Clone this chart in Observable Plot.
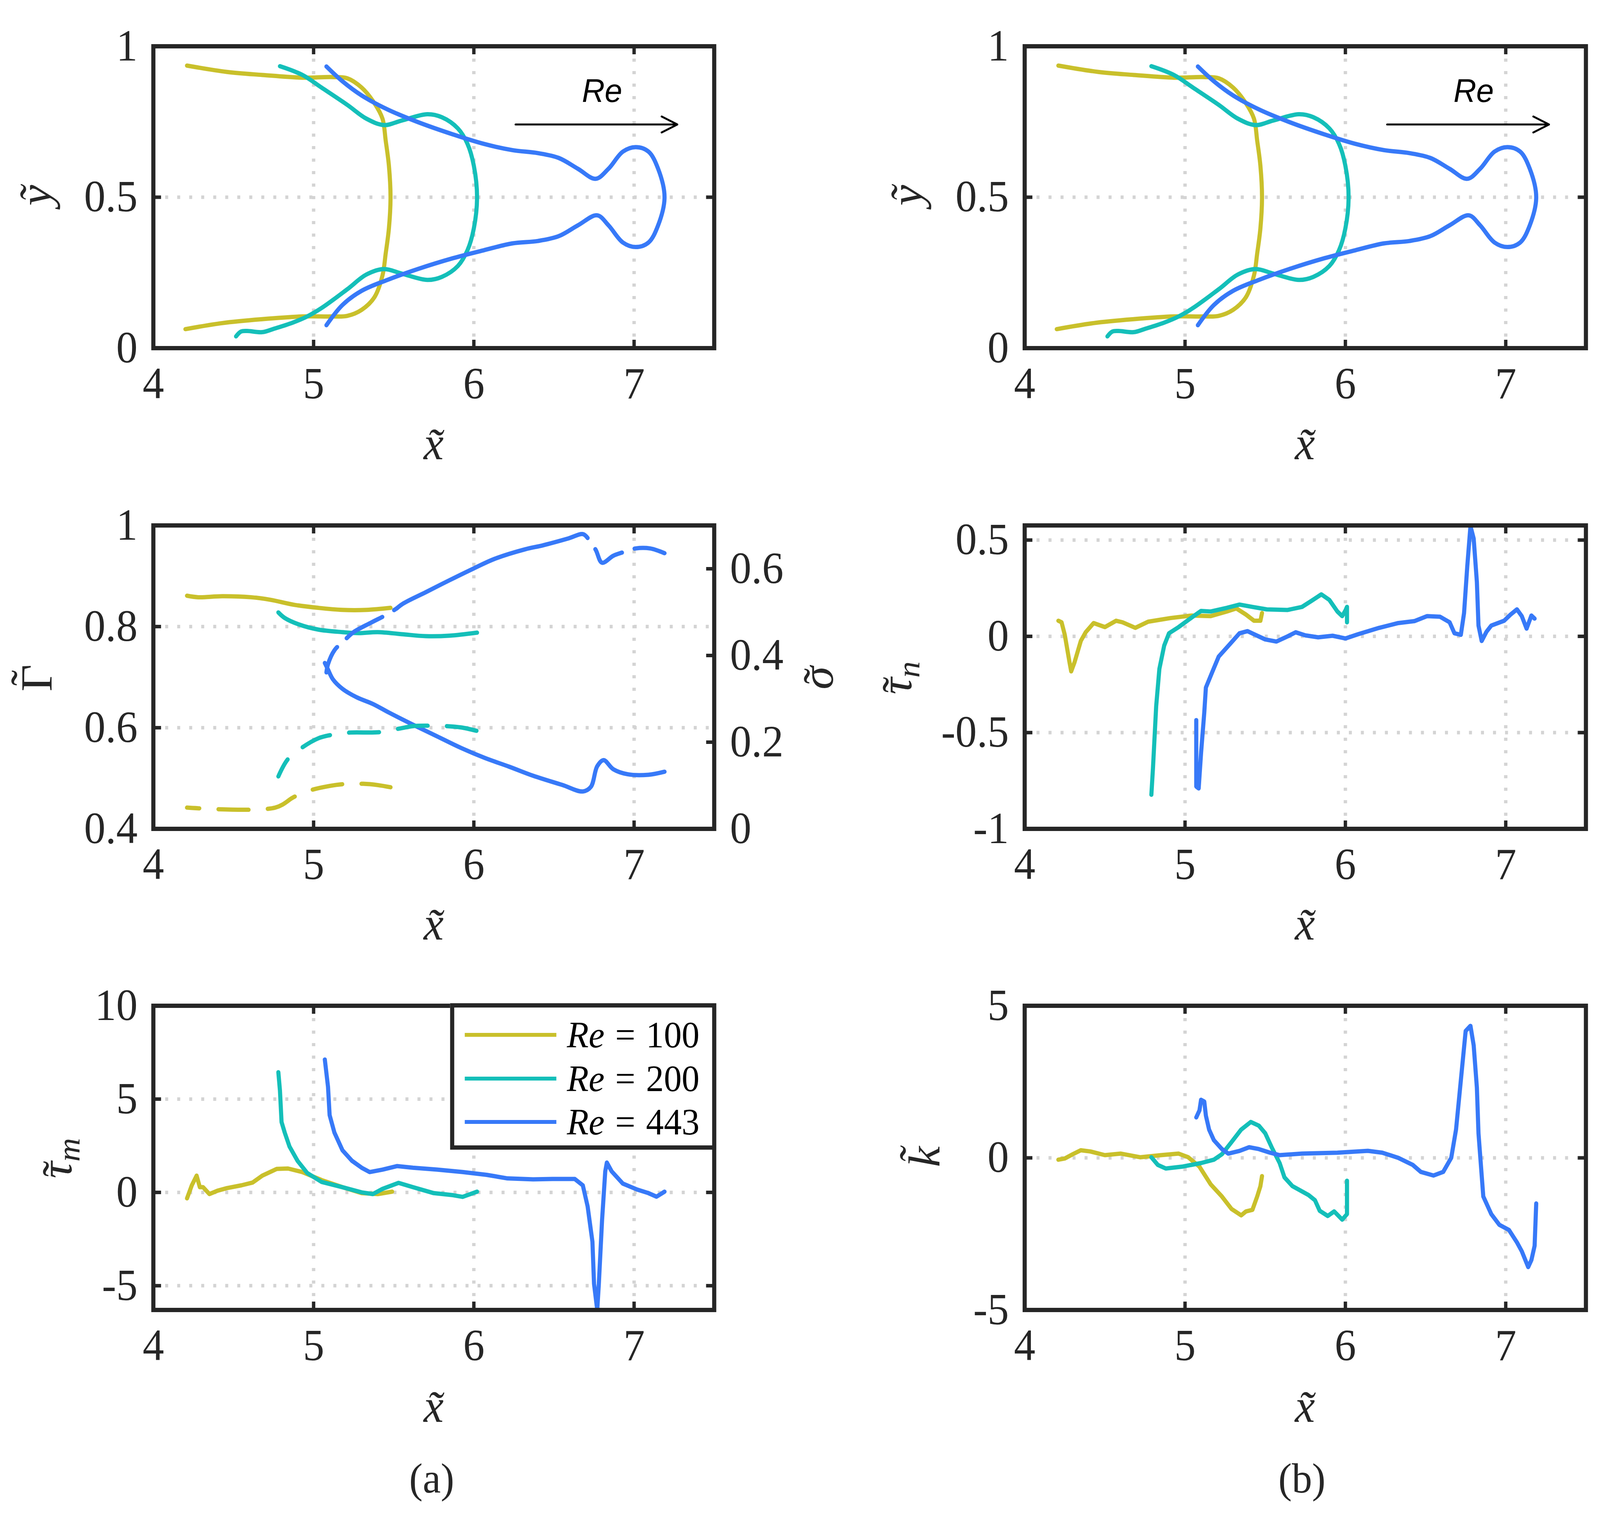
<!DOCTYPE html>
<html>
<head>
<meta charset="utf-8">
<script src="https://cdn.jsdelivr.net/npm/d3@7"></script>
<script src="https://cdn.jsdelivr.net/npm/@observablehq/plot@0.6"></script>
<style>
  html, body { margin: 0; padding: 0; background: #fff; overflow: hidden; }
  #fig { position: relative; width: 4262px; height: 3900px; background: #fff; overflow: hidden;
         font-family: "Liberation Serif", serif; color: #262626; }
  .panel { position: absolute; }
  .lab { position: absolute; white-space: nowrap; font-family: "Liberation Serif", serif;
         font-size: 120px; line-height: 1; transform: translate(-50%, -50%); color: #262626; }
  .rot { transform: translate(-50%, -50%) rotate(-90deg); }
  .lab i { font-style: italic; }
  .lab sub { font-size: 70%; vertical-align: -0.25em; }
  .acc { position: relative; display: inline-block; }
  .acc .tl { position: absolute; transform: translateX(-50%); font-style: normal; line-height: 1; }
  .cap { font-size: 108px; }
  #legend { position: absolute; box-sizing: border-box; border: 11px solid #262626; background: #fff; }
  .lg-line { position: absolute; height: 10px; }
  .lg-text { position: absolute; font-family: "Liberation Serif", serif; font-size: 95px; line-height: 1;
             white-space: nowrap; transform: translateY(-50%); color: #000; }
</style>
</head>
<body>
<div id="fig"></div>
<script>
// ---------------- data ----------------
const xDomain = [4, 7.5];
const xTicks = [4, 5, 6, 7];
const seriesNames = ["Re = 100", "Re = 200", "Re = 443"];
const seriesColors = ["#c9c02b", "#14bfb9", "#3779f8"];

// (top) interface shapes  y~ vs x~
const shape100X = [4.21,4.46,4.68,4.93,5.11,5.21,5.30,5.38,5.43,5.45,5.47,5.48,5.47,5.45,5.43,5.38,5.30,5.21,5.11,4.93,4.68,4.43,4.20];
const shape100Y = [0.936,0.915,0.905,0.896,0.898,0.894,0.863,0.811,0.76,0.687,0.604,0.5,0.397,0.314,0.241,0.169,0.127,0.107,0.105,0.105,0.096,0.083,0.063];
const shape200X = [4.79,4.93,5.05,5.21,5.33,5.44,5.55,5.71,5.80,5.90,5.96,6.00,6.02,6.00,5.96,5.90,5.80,5.71,5.55,5.44,5.33,5.21,5.05,4.96,4.867,4.757,4.679,4.585,4.547,4.516];
const shape200Y = [0.934,0.905,0.863,0.806,0.760,0.739,0.754,0.775,0.765,0.728,0.677,0.604,0.5,0.397,0.324,0.272,0.236,0.226,0.247,0.262,0.244,0.195,0.133,0.105,0.084,0.065,0.053,0.057,0.055,0.039];
const shape443X = [5.08,5.18,5.30,5.46,5.65,5.87,6.06,6.24,6.40,6.53,6.65,6.76,6.84,6.93,7.01,7.09,7.15,7.19,7.15,7.09,7.01,6.93,6.84,6.77,6.65,6.53,6.40,6.24,6.06,5.87,5.65,5.46,5.30,5.18,5.08];
const shape443Y = [0.933,0.884,0.837,0.791,0.749,0.708,0.677,0.656,0.646,0.630,0.594,0.561,0.594,0.651,0.666,0.651,0.594,0.5,0.407,0.35,0.335,0.35,0.407,0.44,0.407,0.371,0.355,0.347,0.324,0.298,0.262,0.226,0.19,0.143,0.076];
const arrowX = [6.26, 7.27];
const arrowY = [0.741, 0.741];
const reNoteX = [6.80];
const reNoteY = [0.85];
const reNoteText = ["Re"];

// (middle-left) Gamma~ (solid, left axis) and sigma~ (dashed, right axis)
const gamma100X = [4.21,4.28,4.43,4.61,4.73,4.88,5.03,5.18,5.33,5.48];
const gamma100Y = [0.861,0.858,0.860,0.858,0.853,0.843,0.837,0.833,0.833,0.837];
const gamma200X = [4.78,4.82,4.91,5.03,5.18,5.28,5.40,5.55,5.70,5.85,6.02];
const gamma200Y = [0.828,0.817,0.804,0.794,0.789,0.787,0.789,0.785,0.781,0.782,0.788];
const gamma443X = [5.07,5.09,5.12,5.18,5.27,5.37,5.47,5.62,5.77,5.92,6.07,6.22,6.37,6.55,6.68,6.73,6.77,6.81,6.87,6.96,7.09,7.19];
const gamma443Y = [0.728,0.715,0.696,0.677,0.660,0.647,0.630,0.606,0.583,0.560,0.540,0.523,0.505,0.487,0.474,0.483,0.524,0.536,0.518,0.508,0.507,0.513];
const sigma100X = [4.21,4.76,4.88,4.99,5.10,5.18,5.31,5.40,5.48];
const sigma100Y = [0.049,0.049,0.074,0.090,0.099,0.103,0.104,0.101,0.096];
const sigma200X = [4.78,4.84,4.93,5.03,5.10,5.22,5.41,5.53,5.62,5.71,5.83,5.92,6.02];
const sigma200Y = [0.121,0.161,0.188,0.209,0.216,0.222,0.223,0.231,0.237,0.238,0.237,0.234,0.226];
const sigma443X = [5.08,5.09,5.13,5.19,5.25,5.36,5.46,5.52,5.56,5.70,5.85,6.00,6.13,6.32,6.43,6.59,6.68,6.71,6.76,6.80,6.87,6.93,7.01,7.10,7.19];
const sigma443Y = [0.361,0.380,0.412,0.434,0.454,0.476,0.495,0.509,0.520,0.546,0.574,0.601,0.623,0.645,0.654,0.670,0.680,0.671,0.644,0.614,0.630,0.638,0.647,0.647,0.636];
const gammaTicks = [0.4, 0.6, 0.8, 1];
const sigmaTicks = [0, 0.2, 0.4, 0.6];
const sigmaMax = 0.7;

// (bottom-left) tau~_m
const tm100X = [4.21,4.24,4.27,4.29,4.31,4.35,4.40,4.46,4.55,4.62,4.68,4.77,4.84,4.93,5.05,5.18,5.30,5.40,5.49];
const tm100Y = [-0.32,0.38,0.90,0.28,0.28,-0.09,0.09,0.23,0.38,0.53,0.90,1.26,1.28,1.09,0.66,0.28,-0.04,-0.09,0.04];
const tm200X = [4.78,4.79,4.80,4.82,4.85,4.90,4.96,5.05,5.18,5.30,5.37,5.43,5.53,5.62,5.75,5.87,5.93,6.02];
const tm200Y = [6.44,5.46,3.77,3.20,2.45,1.69,1.04,0.56,0.28,0.00,-0.09,0.19,0.51,0.28,-0.04,-0.15,-0.24,0.04];
const tm443X = [5.07,5.09,5.10,5.13,5.18,5.24,5.30,5.35,5.43,5.52,5.62,5.77,5.93,6.08,6.21,6.37,6.49,6.63,6.68,6.71,6.74,6.75,6.77,6.78,6.80,6.82,6.83,6.86,6.93,7.02,7.09,7.14,7.19];
const tm443Y = [7.12,5.65,4.14,3.20,2.26,1.69,1.32,1.09,1.22,1.41,1.32,1.22,1.09,0.94,0.75,0.70,0.72,0.72,0.38,-0.75,-2.64,-4.90,-6.30,-4.90,-1.50,1.13,1.60,1.13,0.47,0.15,-0.04,-0.23,0.04];
const tmTicks = [-5, 0, 5, 10];
const tmDomain = [-6.3, 10];

// (middle-right) tau~_n
const tn100X = [4.21,4.23,4.25,4.28,4.29,4.31,4.35,4.38,4.43,4.50,4.57,4.61,4.69,4.77,4.91,5.04,5.16,5.26,5.32,5.38,5.43,5.47,5.48];
const tn100Y = [0.081,0.073,0.008,-0.137,-0.182,-0.137,-0.024,0.021,0.069,0.048,0.081,0.073,0.044,0.076,0.095,0.108,0.105,0.129,0.145,0.113,0.081,0.081,0.121];
const tn200X = [4.79,4.80,4.82,4.84,4.87,4.90,4.96,5.04,5.10,5.16,5.26,5.34,5.42,5.51,5.64,5.73,5.79,5.85,5.90,5.95,5.98,6.00,6.01,6.01];
const tn200Y = [-0.823,-0.685,-0.363,-0.169,-0.048,0.016,0.048,0.097,0.132,0.129,0.148,0.165,0.153,0.140,0.137,0.153,0.185,0.218,0.189,0.129,0.105,0.134,0.153,0.073];
const tn443X = [5.07,5.07,5.085,5.10,5.12,5.13,5.17,5.21,5.28,5.34,5.39,5.43,5.50,5.57,5.64,5.69,5.75,5.83,5.92,6.00,6.08,6.21,6.33,6.43,6.51,6.59,6.65,6.68,6.72,6.74,6.76,6.78,6.80,6.82,6.83,6.85,6.88,6.91,6.99,7.03,7.07,7.10,7.13,7.16,7.18];
const tn443Y = [-0.435,-0.78,-0.79,-0.605,-0.395,-0.266,-0.185,-0.105,-0.040,0.016,0.027,0.011,-0.016,-0.027,0.000,0.021,0.005,-0.005,0.003,-0.011,0.011,0.044,0.069,0.079,0.105,0.102,0.073,0.016,0.008,0.121,0.363,0.573,0.508,0.282,0.056,-0.024,0.024,0.056,0.081,0.113,0.140,0.105,0.040,0.108,0.092];
const tnTicks = [-1, -0.5, 0, 0.5];
const tnDomain = [-1, 0.576];

// (bottom-right) k~
const k100X = [4.21,4.25,4.30,4.35,4.41,4.50,4.60,4.72,4.85,4.96,5.02,5.09,5.16,5.23,5.29,5.35,5.38,5.42,5.45,5.47,5.48];
const k100Y = [-0.06,-0.02,0.12,0.25,0.21,0.09,0.14,0.02,0.09,0.14,0.02,-0.29,-0.87,-1.27,-1.68,-1.89,-1.76,-1.71,-1.27,-0.93,-0.60];
const k200X = [4.79,4.83,4.88,4.98,5.10,5.18,5.23,5.29,5.35,5.41,5.46,5.50,5.54,5.59,5.62,5.67,5.77,5.81,5.84,5.89,5.93,5.98,6.01,6.01];
const k200Y = [0.02,-0.23,-0.35,-0.29,-0.17,-0.06,0.12,0.52,0.93,1.18,1.06,0.81,0.35,-0.17,-0.64,-0.93,-1.22,-1.39,-1.74,-1.91,-1.76,-2.03,-1.85,-0.75];
const k443X = [5.07,5.09,5.10,5.12,5.13,5.15,5.18,5.23,5.27,5.34,5.40,5.46,5.53,5.59,5.73,5.95,6.14,6.23,6.33,6.42,6.47,6.55,6.61,6.66,6.69,6.72,6.75,6.78,6.80,6.82,6.83,6.85,6.86,6.91,6.96,7.02,7.07,7.10,7.14,7.16,7.18,7.19];
const k443Y = [1.33,1.56,1.91,1.85,1.39,0.93,0.58,0.29,0.14,0.23,0.35,0.29,0.17,0.09,0.14,0.17,0.23,0.17,0.00,-0.23,-0.46,-0.58,-0.46,0.00,0.93,2.55,4.17,4.34,3.70,2.31,0.81,-0.58,-1.27,-1.85,-2.20,-2.37,-2.78,-3.07,-3.59,-3.36,-2.89,-1.50];
const kTicks = [-5, 0, 5];
const kDomain = [-5, 5];

const yShapeTicks = [0, 0.5, 1];

// ---------------- helpers ----------------
const ink = "#262626";
const gridColor = "#d4d4d4";
const lineW = 11;
const serif = "Liberation Serif";
const rows = (xs, ys) => xs.map((x, i) => ({x, y: ys[i]}));
const fmt = d => String(d);
const sigToG = s => gammaTicks[0] + s * (gammaTicks[gammaTicks.length - 1] - gammaTicks[0]) / sigmaMax;
const gToSig = g => (g - gammaTicks[0]) * sigmaMax / (gammaTicks[gammaTicks.length - 1] - gammaTicks[0]);

const fig = document.getElementById("fig");

const COL = {
  left:  {left: 0,    width: 2250, ml: 408, mr: 348},
  right: {left: 2250, width: 2012, ml: 479, mr: 38}
};
const ROW = [
  {top: 0,    height: 1240, mt: 118, mb: 349},
  {top: 1240, height: 1230, mt: 105, mb: 348},
  {top: 2470, height: 1430, mt: 105, mb: 546}
];

function panel(col, row, {yDomain, yTicks, yGrid, marks, rightTicks, rightAxis}) {
  const c = COL[col], r = ROW[row];
  const ih = r.height - r.mt - r.mb, iw = c.width - c.ml - c.mr;
  const tl = 21;
  const innerX = xTicks.filter(t => t > xDomain[0] && t < xDomain[1]);
  const svg = Plot.plot({
    width: c.width, height: r.height,
    marginTop: r.mt, marginBottom: r.mb, marginLeft: c.ml, marginRight: c.mr,
    x: {domain: xDomain},
    y: {domain: yDomain},
    style: {fontFamily: serif, fontSize: "114px", color: ink, background: "transparent", overflow: "visible"},
    marks: [
      Plot.gridX(innerX, {stroke: gridColor, strokeOpacity: 1, strokeWidth: 9, strokeDasharray: "8,24"}),
      Plot.gridY(yGrid, {stroke: gridColor, strokeOpacity: 1, strokeWidth: 9, strokeDasharray: "8,24"}),
      ...marks,
      Plot.ruleX(innerX, {x: d => d, insetTop: ih - tl, stroke: ink, strokeWidth: 9}),
      Plot.ruleX(innerX, {x: d => d, insetBottom: ih - tl, stroke: ink, strokeWidth: 9}),
      Plot.ruleY(yTicks, {y: d => d, insetRight: iw - tl, stroke: ink, strokeWidth: 9}),
      Plot.ruleY(rightTicks || yTicks, {y: d => d, insetLeft: iw - tl, stroke: ink, strokeWidth: 9}),
      Plot.axisX(xTicks, {tickSize: 0, tickPadding: 48, tickFormat: fmt, label: null, fontFamily: serif, fontSize: 114, fill: ink}),
      Plot.axisY(yTicks, {anchor: "left", tickSize: 0, tickPadding: 42, tickFormat: fmt, label: null, fontFamily: serif, fontSize: 114, fill: ink}),
      ...(rightAxis ? [rightAxis] : []),
      Plot.frame({stroke: ink, strokeWidth: 11})
    ]
  });
  svg.classList.add("panel");
  svg.style.left = c.left + "px";
  svg.style.top = r.top + "px";
  fig.appendChild(svg);
}

function label(html, x, y, rotate, cls) {
  const d = document.createElement("div");
  d.className = "lab" + (rotate ? " rot" : "") + (cls ? " " + cls : "");
  d.style.left = x + "px";
  d.style.top = y + "px";
  d.innerHTML = html;
  fig.appendChild(d);
}
// base glyph with a small tilde accent placed just above it
const tilde = (base, italic, top, left) =>
  `<span class="acc">${italic ? "<i>" + base + "</i>" : base}<span class="tl" style="top:${top}em;left:${left}%">&#x2DC;</span></span>`;

// ---------------- top panels (shapes) ----------------
const shapeSets = [rows(shape100X, shape100Y), rows(shape200X, shape200Y), rows(shape443X, shape443Y)];
function shapeMarks() {
  return [
    ...shapeSets.map((data, i) => Plot.line(data, {x: "x", y: "y", stroke: seriesColors[i], strokeWidth: lineW, curve: "catmull-rom"})),
    Plot.arrow([{x1: arrowX[0], y1: arrowY[0], x2: arrowX[1], y2: arrowY[1]}],
      {x1: "x1", y1: "y1", x2: "x2", y2: "y2", stroke: "#000", strokeWidth: 5, headLength: 14, headAngle: 52}),
    Plot.text(reNoteX.map((x, i) => ({x, y: reNoteY[i], t: reNoteText[i]})),
      {x: "x", y: "y", text: "t", fontFamily: "Liberation Sans", fontStyle: "italic", fontSize: 84, fill: "#000"})
  ];
}
panel("left", 0, {yDomain: [0, 1], yTicks: yShapeTicks, yGrid: [0.5], marks: shapeMarks()});
panel("right", 0, {yDomain: [0, 1], yTicks: yShapeTicks, yGrid: [0.5], marks: shapeMarks()});

// ---------------- middle-left (Gamma, sigma) ----------------
{
  const g = [rows(gamma100X, gamma100Y), rows(gamma200X, gamma200Y), rows(gamma443X, gamma443Y)];
  const s100 = rows(sigma100X, sigma100Y), s200 = rows(sigma200X, sigma200Y), s443 = rows(sigma443X, sigma443Y);
  const sy = d => sigToG(d.y);
  const marks = [
    ...g.map((data, i) => Plot.line(data, {x: "x", y: "y", stroke: seriesColors[i], strokeWidth: lineW, curve: "catmull-rom"})),
    Plot.line(s100, {x: "x", y: sy, stroke: seriesColors[0], strokeWidth: lineW, curve: "catmull-rom", strokeDasharray: "80,51", strokeDashoffset: 47}),
    Plot.line(s200, {x: "x", y: sy, stroke: seriesColors[1], strokeWidth: lineW, curve: "catmull-rom", strokeDasharray: "80,51", strokeDashoffset: 30}),
    Plot.line(s443, {x: "x", y: sy, filter: d => d.x <= 5.52, stroke: seriesColors[2], strokeWidth: lineW, curve: "catmull-rom", strokeDasharray: "72,34,110,36"}),
    Plot.line(s443, {x: "x", y: sy, filter: d => d.x >= 5.52 && d.x <= 6.71, stroke: seriesColors[2], strokeWidth: lineW, curve: "catmull-rom"}),
    Plot.line(s443, {x: "x", y: sy, filter: d => d.x >= 6.71, stroke: seriesColors[2], strokeWidth: lineW, curve: "catmull-rom", strokeDasharray: "100,35", strokeDashoffset: 100})
  ];
  const sigPos = sigmaTicks.map(sigToG);
  const rightAxis = Plot.axisY(sigPos, {anchor: "right", tickSize: 0, tickPadding: 42, label: null, fontFamily: serif, fontSize: 114, fill: ink,
    tickFormat: d => String(+gToSig(d).toFixed(1))});
  panel("left", 1, {yDomain: [gammaTicks[0], gammaTicks[gammaTicks.length - 1]], yTicks: gammaTicks, yGrid: [0.6, 0.8],
    marks, rightTicks: sigPos, rightAxis});
}

// ---------------- bottom-left (tau_m) ----------------
{
  const sets = [rows(tm100X, tm100Y), rows(tm200X, tm200Y), rows(tm443X, tm443Y)];
  panel("left", 2, {yDomain: tmDomain, yTicks: tmTicks, yGrid: [-5, 0, 5],
    marks: sets.map((data, i) => Plot.line(data, {x: "x", y: "y", stroke: seriesColors[i], strokeWidth: lineW, strokeLinejoin: "round"}))});
}

// ---------------- middle-right (tau_n) ----------------
{
  const sets = [rows(tn100X, tn100Y), rows(tn200X, tn200Y), rows(tn443X, tn443Y)];
  panel("right", 1, {yDomain: tnDomain, yTicks: tnTicks, yGrid: [-0.5, 0, 0.5],
    marks: sets.map((data, i) => Plot.line(data, {x: "x", y: "y", stroke: seriesColors[i], strokeWidth: lineW, strokeLinejoin: "round"}))});
}

// ---------------- bottom-right (k) ----------------
{
  const sets = [rows(k100X, k100Y), rows(k200X, k200Y), rows(k443X, k443Y)];
  panel("right", 2, {yDomain: kDomain, yTicks: kTicks, yGrid: [0],
    marks: sets.map((data, i) => Plot.line(data, {x: "x", y: "y", stroke: seriesColors[i], strokeWidth: lineW, strokeLinejoin: "round"}))});
}

// ---------------- axis labels & captions ----------------
const xLab = "<i>x&#x303;</i>";
[1144, 2374, 3609].forEach(y => { label(xLab, 1155, y - 8, false); label(xLab, 3476, y - 8, false); });
label("<i>y&#x303;</i>", 95, 500, true);
label("<i>y&#x303;</i>", 2416, 500, true);
label(tilde("&Gamma;", false, -0.22, 50), 97, 1736, true);
label(tilde("&sigma;", true, 0.04, 58), 2178, 1736, true);
label(tilde("&tau;", true, 0.04, 58) + "<sub><i>m</i></sub>", 158, 2966, true);
label(tilde("&tau;", true, 0.04, 58) + "<sub><i>n</i></sub>", 2395, 1736, true);
label("<i>k&#x303;</i>", 2462, 2962, true);
label("(a)", 1150, 3786, false, "cap");
label("(b)", 3468, 3786, false, "cap");

// ---------------- legend ----------------
{
  const lg = document.createElement("div");
  lg.id = "legend";
  lg.style.left = "1199px"; lg.style.top = "2569px";
  lg.style.width = "709px"; lg.style.height = "375px";
  const ys = [70, 182, 293];
  seriesNames.forEach((name, i) => {
    const ln = document.createElement("div");
    ln.className = "lg-line";
    ln.style.left = "28px"; ln.style.width = "244px"; ln.style.top = (ys[i] - 5) + "px";
    ln.style.background = seriesColors[i];
    lg.appendChild(ln);
    const tx = document.createElement("div");
    tx.className = "lg-text";
    tx.style.left = "300px"; tx.style.top = ys[i] + "px";
    const [a, b] = name.split(" = ");
    tx.innerHTML = `<i>${a}</i><span style="margin:0 0.3em">=</span>${b}`;
    lg.appendChild(tx);
  });
  fig.appendChild(lg);
}

// fit the 4262x3900 figure into the actual viewport if the browser gives a smaller one
{
  const sx = Math.min(1, window.innerWidth / 4262);
  const sy = Math.min(1, window.innerHeight / 3900);
  if (sx < 1 || sy < 1) {
    fig.style.transformOrigin = "0 0";
    fig.style.transform = `scale(${sx}, ${sy})`;
  }
}
</script>
</body>
</html>
